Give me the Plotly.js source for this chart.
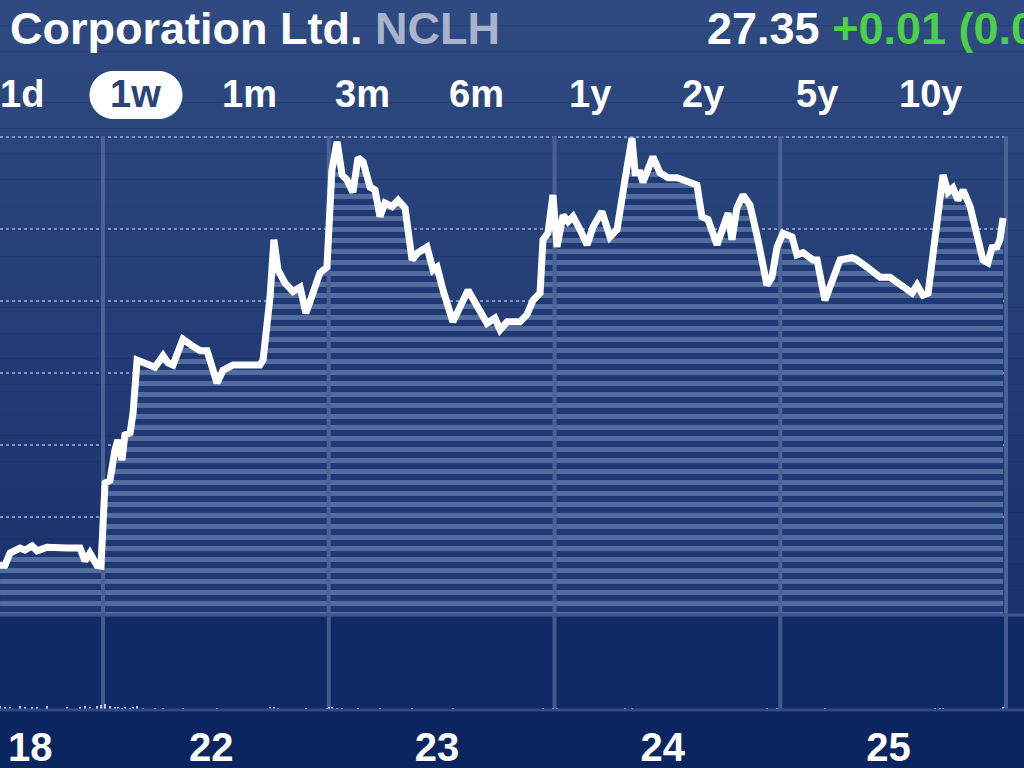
<!DOCTYPE html>
<html><head><meta charset="utf-8">
<script src="https://cdn.plot.ly/plotly-3.0.1.min.js"></script>
<style>html,body{margin:0;padding:0;background:#0b2561;overflow:hidden}#chart{width:1024px;height:768px}</style>
</head><body><div id="chart"></div>
<script>
// ---------- data ----------
const companyName = 'Corporation Ltd.';
const ticker = 'NCLH';
const lastPrice = '27.35';
const priceChange = '+0.01 (0.04%)';
const rangeButtons = ['1d','1w','1m','3m','6m','1y','2y','5y','10y'];
const activeRange = '1w';
const dayLabels = ['18','22','23','24','25'];
const dayOpens = [0,1,2,3,4];       // session index at each day's open
const sessionEnd = 5;
const gridPrices = [23,24,25,26,27];

// session position (trading days; integer = market open of that day)
const session = [
 0.544,0.566,0.588,0.632,0.654,0.686,0.708,0.752,0.841,0.898,0.920,0.942,0.973,0.991,
 1.009,1.031,1.053,1.066,1.084,1.097,1.120,1.133,1.151,1.177,1.230,1.266,1.288,1.310,1.354,1.394,1.430,1.461,1.505,1.532,1.576,1.695,1.709,1.740,1.757,1.775,1.806,1.842,1.873,1.899,1.930,1.961,1.992,
 2.001,2.014,2.037,2.059,2.081,2.107,2.130,2.152,2.183,2.205,2.227,2.249,2.280,2.307,2.338,2.369,2.395,2.435,2.462,2.480,2.506,2.550,2.617,2.701,2.736,2.759,2.790,2.847,2.878,2.905,2.936,2.949,2.971,2.993,
 3.011,3.038,3.060,3.082,3.113,3.144,3.171,3.210,3.246,3.277,3.312,3.343,3.357,3.379,3.392,3.436,3.467,3.503,3.543,3.587,3.631,3.653,3.680,3.720,3.769,3.786,3.808,3.835,3.866,3.901,3.941,3.963,3.986,
 4.012,4.052,4.074,4.101,4.145,4.163,4.198,4.234,4.265,4.318,4.340,4.384,4.442,4.486,4.531,4.584,4.606,4.632,4.655,4.686,4.708,4.721,4.743,4.765,4.787,4.810,4.841,4.872,4.898,4.920,4.938,4.960,4.973,4.987
];
const price = [
 22.33,22.33,22.50,22.57,22.54,22.60,22.53,22.58,22.57,22.57,22.39,22.50,22.33,22.32,
 23.47,23.51,23.93,24.07,23.79,24.14,24.17,24.44,25.18,25.14,25.08,25.24,25.14,25.11,25.47,25.38,25.31,25.31,24.86,25.04,25.11,25.11,25.18,26.06,26.85,26.43,26.25,26.13,26.19,25.83,26.15,26.39,26.47,
 26.99,27.82,28.21,27.75,27.68,27.51,27.99,27.93,27.58,27.54,27.17,27.36,27.31,27.40,27.29,26.57,26.67,26.75,26.43,26.47,26.15,25.71,26.15,25.69,25.76,25.60,25.71,25.71,25.81,26.01,26.11,26.85,26.94,27.47,
 26.75,27.19,27.10,27.17,26.99,26.78,27.03,27.24,26.89,26.99,27.68,28.26,27.78,27.78,27.65,28.00,27.78,27.71,27.71,27.65,27.61,27.17,27.13,26.78,27.22,26.85,27.29,27.47,27.33,26.85,26.22,26.33,26.75,
 26.94,26.89,26.64,26.67,26.57,26.57,26.01,26.33,26.57,26.60,26.57,26.47,26.33,26.33,26.22,26.11,26.22,26.08,26.11,26.81,27.36,27.75,27.51,27.57,27.40,27.54,27.31,26.89,26.57,26.53,26.74,26.75,26.85,27.15
];
const volume = [
 4,3,3,4,3,3,3,4,3,3,4,3,4,5,
 6,4,3,3,2,3,2,3,4,2,2,2,1,1,2,1,1,1,2,1,1,1,1,3,3,2,1,1,1,2,1,1,2,
 3,3,2,2,1,1,2,1,1,1,2,1,1,1,1,2,1,1,1,1,1,2,1,1,1,1,1,1,1,1,1,2,1,2,
 2,1,1,1,1,1,1,1,1,1,2,2,1,1,1,1,1,1,1,1,1,1,1,1,1,1,1,1,1,1,2,1,2,
 1,1,1,1,1,1,2,1,1,1,1,1,1,1,1,1,1,1,1,2,2,2,1,1,1,1,1,1,1,1,1,1,1,3
];

// ---------- layout helpers (pixels -> paper) ----------
const W = 1024, H = 768;
const PX = x => x / W, PY = y => 1 - y / H;
const xMin = 0.5437, xMax = 5.0797;
const yLo = 21.64, yHi = 28.29;
const priceDom = [PY(615), PY(136)];
const volDom = [PY(710), PY(615)];
const FONT = 'Liberation Sans, Arial, Helvetica, sans-serif';

const shapes = [];
// background gradient bands
const bandTop = [46,74,128], bandBot = [26,50,108];
const nb = 24;
for (let i = 0; i < nb; i++) {
  const t = i / (nb - 1);
  const c = bandTop.map((v, k) => Math.round(v + (bandBot[k] - v) * t));
  shapes.push({type:'rect', xref:'paper', yref:'paper', x0:0, x1:1,
    y0: PY(615 * (i + 1) / nb), y1: PY(615 * i / nb),
    fillcolor:`rgb(${c.join(',')})`, line:{width:0}, layer:'below'});
}
shapes.push({type:'rect', xref:'paper', yref:'paper', x0:0, x1:1, y0:PY(710), y1:PY(615),
  fillcolor:'#0f2a66', line:{width:0}, layer:'below'});
// dotted price gridlines
gridPrices.forEach(p => shapes.push({type:'line', xref:'x', yref:'y', x0:xMin, x1:sessionEnd, y0:p, y1:p,
  line:{color:'#7f94c0', width:2, dash:'dot'}, layer:'below'}));
shapes.push({type:'line', xref:'x', yref:'paper', x0:xMin, x1:sessionEnd, y0:PY(137), y1:PY(137),
  line:{color:'#7f94c0', width:2, dash:'dot'}, layer:'below'});
// day separators in volume pane
dayOpens.slice(1).concat([sessionEnd]).forEach(d => shapes.push({type:'line', xref:'x', yref:'paper',
  x0:d, x1:d, y0:volDom[0], y1:volDom[1], line:{color:'#44598c', width:4}, layer:'below'}));
// pane separators
shapes.push({type:'line', xref:'paper', yref:'paper', x0:0, x1:1, y0:PY(615), y1:PY(615), line:{color:'#3e5791', width:3}});
shapes.push({type:'line', xref:'paper', yref:'paper', x0:0, x1:1, y0:PY(710), y1:PY(710), line:{color:'#324a82', width:3}});
// pill for active range
const idx = rangeButtons.indexOf(activeRange);
const cx = 22 + idx * 113.5;
const L = cx - 46, R = cx + 47, T = 71, B = 119, r = 24, k = 0.5523 * r, cy = (T + B) / 2;
const pt = (x, y) => `${PX(x)},${PY(y)}`;
const pill = `M${pt(L + r, T)} L${pt(R - r, T)} C${pt(R - r + k, T)} ${pt(R, cy - k)} ${pt(R, cy)} ` +
  `C${pt(R, cy + k)} ${pt(R - r + k, B)} ${pt(R - r, B)} L${pt(L + r, B)} ` +
  `C${pt(L + r - k, B)} ${pt(L, cy + k)} ${pt(L, cy)} C${pt(L, cy - k)} ${pt(L + r - k, T)} ${pt(L + r, T)} Z`;
shapes.push({type:'path', xref:'paper', yref:'paper', path:pill, fillcolor:'#ffffff', line:{width:0}});

// ---------- annotations ----------
const annotations = [
  {xref:'paper', yref:'paper', x:PX(8), y:PY(28), xanchor:'left', yanchor:'middle', showarrow:false,
   text:`<b>${companyName} <span style="color:#a9b3cb">${ticker}</span></b>`,
   font:{family:FONT, size:45, color:'#ffffff'}},
  {xref:'paper', yref:'paper', x:PX(705), y:PY(28), xanchor:'left', yanchor:'middle', showarrow:false,
   text:`<b>${lastPrice} <span style="color:#4ccf4a">${priceChange}</span></b>`,
   font:{family:FONT, size:45, color:'#ffffff'}}
];
rangeButtons.forEach((b, i) => annotations.push({xref:'paper', yref:'paper', x:PX(22 + i * 113.5), y:PY(94),
  xanchor:'center', yanchor:'middle', showarrow:false, text:`<b>${b}</b>`,
  font:{family:FONT, size:38, color: b === activeRange ? '#2a4476' : '#ffffff'}}));

// ---------- traces ----------
const sep = dayOpens.slice(1).concat([sessionEnd]);
const sepX = [], sepY = [];
sep.forEach(d => { sepX.push(d, d, null); sepY.push(yLo, yHi, null); });

const traces = [
  {type:'scatter', mode:'lines', x:session, y:price, xaxis:'x', yaxis:'y', line:{width:0},
   fill:'tozeroy', fillcolor:'#1f3a74',
   fillpattern:{shape:'-', size:11, solidity:0.45, fgcolor:'#536c9f', bgcolor:'#1e3973', fgopacity:1},
   hoverinfo:'skip'},
  {type:'scatter', mode:'lines', x:sepX, y:sepY, xaxis:'x', yaxis:'y', line:{color:'#4a6296', width:4}, hoverinfo:'skip'},
  {type:'scatter', mode:'lines', x:session, y:price, xaxis:'x', yaxis:'y',
   line:{color:'#ffffff', width:7, shape:'linear'}, hoverinfo:'skip'},
  {type:'bar', x:session, y:volume, xaxis:'x', yaxis:'y2', width:0.008,
   marker:{color:'rgba(255,255,255,0.75)', line:{width:0}}, hoverinfo:'skip'}
];

const tickvals = dayOpens.map(d => Math.max(d + 0.48, xMin + 0.134));

const layout = {
  width:W, height:H, margin:{l:0, r:0, t:0, b:0},
  paper_bgcolor:'#0b2561', plot_bgcolor:'rgba(0,0,0,0)',
  showlegend:false, hovermode:false, bargap:0,
  xaxis:{domain:[0,1], range:[xMin, xMax], anchor:'y2', showgrid:false, zeroline:false, showline:false,
    tickmode:'array', tickvals:tickvals, ticktext:dayLabels, ticks:'', ticklabelstandoff:10,
    tickfont:{family:FONT, size:40, color:'#ffffff', weight:'bold'}, fixedrange:true},
  yaxis:{domain:priceDom, range:[yLo, yHi], showgrid:false, zeroline:false, showticklabels:false, fixedrange:true},
  yaxis2:{domain:volDom, range:[0, 100], showgrid:false, zeroline:false, showticklabels:false, fixedrange:true},
  shapes:shapes, annotations:annotations
};

Plotly.newPlot('chart', traces, layout, {staticPlot:true, displayModeBar:false});
</script></body></html>
